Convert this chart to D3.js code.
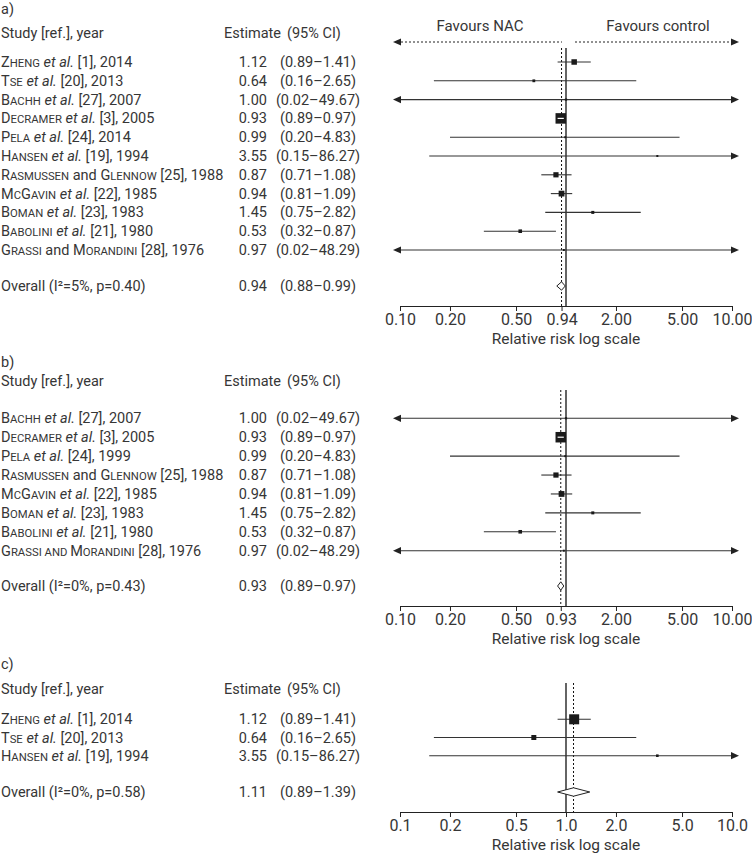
<!DOCTYPE html>
<html><head><meta charset="utf-8">
<script src="https://cdn.jsdelivr.net/npm/d3@7"></script>
<style>
body{margin:0;background:#fff}
text{font-family:Roboto, "Noto Sans", sans-serif; fill:#363636}
</style>
</head><body>
<svg id="chart" width="752" height="853"></svg>
<script>
// ---------- DATA ----------
const labelsA = [
  "^Zheng^ _et al._ [1], 2014",
  "^Tse^ _et al._ [20], 2013",
  "^Bachh^ _et al._ [27], 2007",
  "^Decramer^ _et al._ [3], 2005",
  "^Pela^ _et al._ [24], 2014",
  "^Hansen^ _et al._ [19], 1994",
  "^Rasmussen^ and ^Glennow^ [25], 1988",
  "^McGavin^ _et al._ [22], 1985",
  "^Boman^ _et al._ [23], 1983",
  "^Babolini^ _et al._ [21], 1980",
  "^Grassi^ and ^Morandini^ [28], 1976"
];
const estA  = [1.12, 0.64, 1.00, 0.93, 0.99, 3.55, 0.87, 0.94, 1.45, 0.53, 0.97];
const lowA  = [0.89, 0.16, 0.02, 0.89, 0.20, 0.15, 0.71, 0.81, 0.75, 0.32, 0.02];
const highA = [1.41, 2.65, 49.67, 0.97, 4.83, 86.27, 1.08, 1.09, 2.82, 0.87, 48.29];
const weightA = [5.5, 2.8, 2.2, 10.5, 2, 2, 5.2, 5.8, 3, 3.6, 2];
const overallA = {label: "Overall (I²=5%, p=0.40)", est: 0.94, low: 0.88, high: 0.99};
const ticksA = [0.1, 0.2, 0.5, 0.94, 2, 5, 10];

const labelsB = [
  "^Bachh^ _et al._ [27], 2007",
  "^Decramer^ _et al._ [3], 2005",
  "^Pela^ _et al._ [24], 1999",
  "^Rasmussen^ and ^Glennow^ [25], 1988",
  "^McGavin^ _et al._ [22], 1985",
  "^Boman^ _et al._ [23], 1983",
  "^Babolini^ _et al._ [21], 1980",
  "^Grassi and Morandini^ [28], 1976"
];
const estB  = [1.00, 0.93, 0.99, 0.87, 0.94, 1.45, 0.53, 0.97];
const lowB  = [0.02, 0.89, 0.20, 0.71, 0.81, 0.75, 0.32, 0.02];
const highB = [49.67, 0.97, 4.83, 1.08, 1.09, 2.82, 0.87, 48.29];
const weightB = [2.2, 10.5, 2, 5.2, 5.8, 3, 3.6, 2];
const overallB = {label: "Overall (I²=0%, p=0.43)", est: 0.93, low: 0.89, high: 0.97};
const ticksB = [0.1, 0.2, 0.5, 0.93, 2, 5, 10];

const labelsC = [
  "^Zheng^ _et al._ [1], 2014",
  "^Tse^ _et al._ [20], 2013",
  "^Hansen^ _et al._ [19], 1994"
];
const estC  = [1.12, 0.64, 3.55];
const lowC  = [0.89, 0.16, 0.15];
const highC = [1.41, 2.65, 86.27];
const weightC = [10, 5, 2.6];
const overallC = {label: "Overall (I²=0%, p=0.58)", est: 1.11, low: 0.89, high: 1.39};
const ticksC = [0.1, 0.2, 0.5, 1.0, 2, 5, 10];

// ---------- LAYOUT ----------
const panels = [
  {tag: "a)", labels: labelsA, est: estA, low: lowA, high: highA, w: weightA, overall: overallA, ticks: ticksA, fmt: ".2f",
   favours: true, tagY: 9, headerY: 33, favY: 26, favArrowY: 42, row0: 62, rowN: 250, overallY: 286, axisY: 306, vTop: 48},
  {tag: "b)", labels: labelsB, est: estB, low: lowB, high: highB, w: weightB, overall: overallB, ticks: ticksB, fmt: ".2f",
   favours: false, tagY: 362, headerY: 381, row0: 418.3, rowN: 550.7, overallY: 586, axisY: 606, vTop: 390},
  {tag: "c)", labels: labelsC, est: estC, low: lowC, high: highC, w: weightC, overall: overallC, ticks: ticksC, fmt: ".1f",
   favours: false, tagY: 664, headerY: 689, row0: 719.3, rowN: 755.7, overallY: 792, axisY: 812, vTop: 683}
];

const svg = d3.select("#chart");
const FS = 14.5;
const ink = "#222";
const x = d3.scaleLog().domain([0.1, 10]).range([400, 732]);
const [xMin, xMax] = x.range();
const arrowLen = 8, arrowHalf = 3.6, arrowOver = 7;
const fmt2 = d3.format(".2f");

function smallCaps(sel, str) {
  const runs = str.match(/[a-z ]+|[^a-z ]+/g) || [];
  runs.forEach(r => {
    const t = sel.append("tspan");
    if (/[a-z]/.test(r)) t.text(r.toUpperCase()).attr("font-size", FS * 0.78);
    else t.text(r);
  });
}

function richText(sel, str) {
  const parts = str.split(/(\^[^^]+\^|_[^_]+_)/).filter(s => s.length);
  parts.forEach(p => {
    if (p.startsWith("^")) smallCaps(sel, p.slice(1, -1));
    else if (p.startsWith("_")) sel.append("tspan").text(p.slice(1, -1)).style("font-style", "italic");
    else sel.append("tspan").text(p);
  });
}

function arrowHead(g, tipX, y, dir) {
  const base = tipX - dir * arrowLen;
  g.append("path")
    .attr("d", `M${tipX},${y}L${base},${y - arrowHalf}L${base},${y + arrowHalf}Z`)
    .attr("fill", ink);
}

panels.forEach(p => {
  const g = svg.append("g");
  const n = p.labels.length;
  const y = d3.scaleLinear().domain([0, n - 1]).range([p.row0, p.rowN]);

  g.append("text").attr("x", 1).attr("y", p.tagY).attr("dy", "0.35em").attr("font-size", FS).text(p.tag);
  g.append("text").attr("x", 1).attr("y", p.headerY).attr("dy", "0.35em").attr("font-size", FS).text("Study [ref.], year");
  g.append("text").attr("x", 224).attr("y", p.headerY).attr("dy", "0.35em").attr("font-size", FS).text("Estimate");
  g.append("text").attr("x", 287).attr("y", p.headerY).attr("dy", "0.35em").attr("font-size", FS).text("(95% CI)");

  if (p.favours) {
    const x1 = x(1);
    g.append("text").attr("x", 480).attr("y", p.favY).attr("dy", "0.35em").attr("text-anchor", "middle")
      .attr("font-size", 15).text("Favours NAC");
    g.append("text").attr("x", 658).attr("y", p.favY).attr("dy", "0.35em").attr("text-anchor", "middle")
      .attr("font-size", 15).text("Favours control");
    const lt = xMin - arrowOver, rt = xMax + arrowOver;
    g.append("line").attr("x1", lt + arrowLen).attr("x2", x1 - 4).attr("y1", p.favArrowY).attr("y2", p.favArrowY)
      .attr("stroke", ink).attr("stroke-width", 1).attr("stroke-dasharray", "2,2");
    g.append("line").attr("x1", x1 + 9).attr("x2", rt - arrowLen).attr("y1", p.favArrowY).attr("y2", p.favArrowY)
      .attr("stroke", ink).attr("stroke-width", 1).attr("stroke-dasharray", "2,2");
    arrowHead(g, lt, p.favArrowY, -1);
    arrowHead(g, rt, p.favArrowY, 1);
  }

  g.append("line").attr("x1", x(1)).attr("x2", x(1)).attr("y1", p.vTop).attr("y2", p.axisY)
    .attr("stroke", "#111").attr("stroke-width", 1.3);
  g.append("line").attr("x1", x(p.overall.est)).attr("x2", x(p.overall.est)).attr("y1", p.vTop).attr("y2", p.axisY)
    .attr("stroke", "#111").attr("stroke-width", 1).attr("stroke-dasharray", "2,2");

  for (let i = 0; i < n; i++) {
    const yy = y(i);
    const t = g.append("text").attr("x", 1).attr("y", yy).attr("dy", "0.35em").attr("font-size", FS);
    richText(t, p.labels[i]);
    g.append("text").attr("x", 267).attr("y", yy).attr("dy", "0.35em").attr("text-anchor", "end")
      .attr("font-size", FS).text(fmt2(p.est[i]));
    g.append("text").attr("x", 318).attr("y", yy).attr("dy", "0.35em").attr("text-anchor", "middle")
      .attr("font-size", FS).text(`(${fmt2(p.low[i])}–${fmt2(p.high[i])})`);

    const lowOut = p.low[i] < 0.1, highOut = p.high[i] > 10;
    const xl = lowOut ? xMin - arrowOver + arrowLen : x(p.low[i]);
    const xh = highOut ? xMax + arrowOver - arrowLen : x(p.high[i]);
    g.append("line").attr("x1", xl).attr("x2", xh).attr("y1", yy).attr("y2", yy)
      .attr("stroke", "#333").attr("stroke-width", 1.1);
    if (lowOut) arrowHead(g, xMin - arrowOver, yy, -1);
    if (highOut) arrowHead(g, xMax + arrowOver, yy, 1);

    const s = p.w[i];
    const cx = x(p.est[i]);
    g.append("rect").attr("x", cx - s / 2).attr("y", yy - s / 2).attr("width", s).attr("height", s).attr("fill", "#1a1a1a");
    if (!lowOut && !highOut && x(p.low[i]) > cx - s / 2 && x(p.high[i]) < cx + s / 2) {
      g.append("line").attr("x1", x(p.low[i])).attr("x2", x(p.high[i])).attr("y1", yy).attr("y2", yy)
        .attr("stroke", "#fff").attr("stroke-width", 1.2);
    }
  }

  const o = p.overall;
  g.append("text").attr("x", 1).attr("y", p.overallY).attr("dy", "0.35em").attr("font-size", FS).text(o.label);
  g.append("text").attr("x", 267).attr("y", p.overallY).attr("dy", "0.35em").attr("text-anchor", "end")
    .attr("font-size", FS).text(fmt2(o.est));
  g.append("text").attr("x", 318).attr("y", p.overallY).attr("dy", "0.35em").attr("text-anchor", "middle")
    .attr("font-size", FS).text(`(${fmt2(o.low)}–${fmt2(o.high)})`);
  const dh = 4.2;
  g.append("path")
    .attr("d", `M${x(o.low)},${p.overallY}L${x(o.est)},${p.overallY - dh}L${x(o.high)},${p.overallY}L${x(o.est)},${p.overallY + dh}Z`)
    .attr("fill", "#fff").attr("stroke", ink).attr("stroke-width", 1);

  const axis = d3.axisBottom(x).tickValues(p.ticks).tickFormat(d3.format(p.fmt)).tickSize(5).tickSizeOuter(0).tickPadding(3);
  const ag = g.append("g").attr("transform", `translate(0,${p.axisY})`).call(axis);
  ag.select(".domain").attr("stroke", ink).attr("stroke-width", 1);
  ag.selectAll(".tick line").attr("stroke", ink).attr("stroke-width", 1);
  ag.selectAll(".tick text").attr("font-size", 16).attr("font-family", "Roboto, sans-serif").attr("fill", "#363636");
  g.append("text").attr("x", 566).attr("y", p.axisY + 33).attr("dy", "0.35em").attr("text-anchor", "middle")
    .attr("font-size", 15.5).text("Relative risk log scale");
});
</script>
</body></html>
